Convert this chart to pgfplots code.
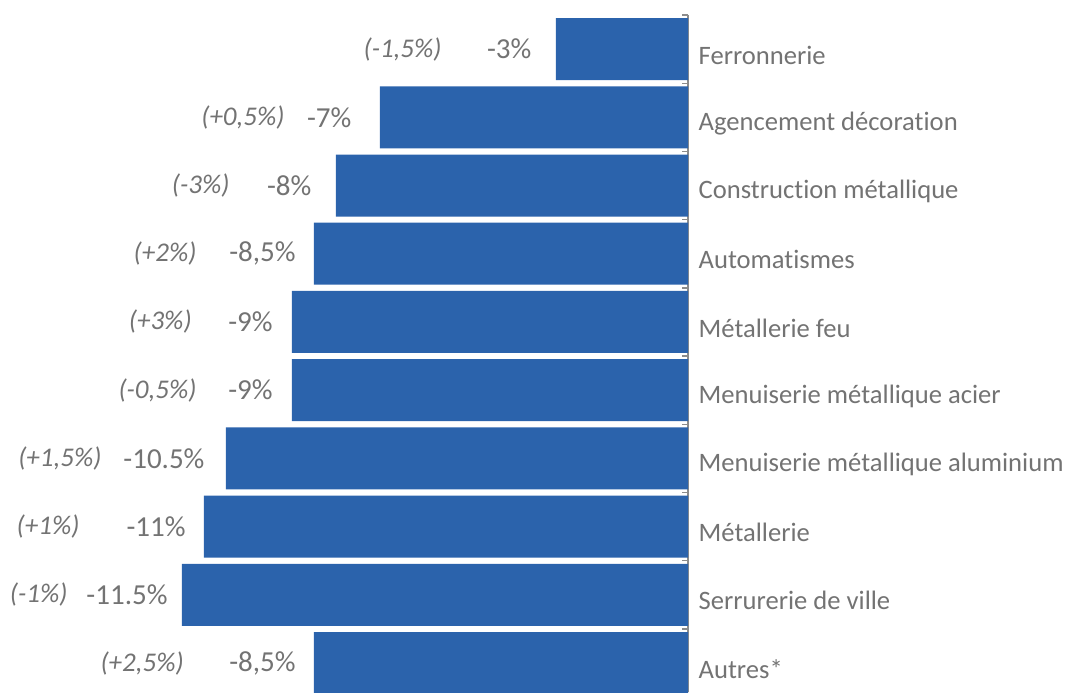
\documentclass[border=0pt]{standalone}
\usepackage{fontspec}
\setmainfont{Carlito}[Ligatures=NoCommon]
\usepackage{pgfplots}
\usepackage{pgfplotstable}
\pgfplotsset{compat=1.18}
\definecolor{barblue}{HTML}{2B63AC}
\definecolor{txtgray}{HTML}{737373}
\definecolor{axgray}{HTML}{8C8C8C}

\pgfplotstableread{
y val vlx vlab clx clab
0 -3 -3.55 {-3\%} -5.59 {(-1,5\%)}
1 -7 -7.64 {-7\%} -9.16 {(+0,5\%)}
2 -8 -8.55 {-8\%} -10.41 {(-3\%)}
3 -8.5 -8.91 {-8,5\%} -11.16 {(+2\%)}
4 -9 -9.43 {-9\%} -11.27 {(+3\%)}
5 -9 -9.43 {-9\%} -11.16 {(-0,5\%)}
6 -10.5 -10.98 {-10.5\%} -13.32 {(+1,5\%)}
7 -11 -11.41 {-11\%} -13.82 {(+1\%)}
8 -11.5 -11.82 {-11.5\%} -14.09 {(-1\%)}
9 -8.5 -8.91 {-8,5\%} -11.45 {(+2,5\%)}
}\data

\begin{document}
\begin{tikzpicture}
\begin{axis}[
  scale only axis, width=344pt, height=338.5pt,
  xmin=-15.636, xmax=0, ymin=-0.5, ymax=9.425, y dir=reverse,
  axis x line=none, axis y line=right,
  axis line style={-, draw=axgray, line width=0.7pt},
  ytick={0,...,9},
  yticklabels={Ferronnerie, Agencement décoration, Construction métallique, Automatismes, Métallerie feu, Menuiserie métallique acier, Menuiserie métallique aluminium, Métallerie, Serrurerie de ville, Autres*},
  major tick length=0pt,
  minor ytick={-0.5,0.5,...,9.5}, minor tick length=2.8pt, tick align=inside,
  every tick/.style={draw=axgray, line width=0.7pt},
  yticklabel style={anchor=west, text=txtgray, font=\fontsize{13.3}{16}\selectfont, xshift=1.8pt, yshift=-3pt},
  clip=false,
]
\addplot[xbar, bar width=31pt, bar shift=0pt, fill=barblue, draw=none] table[x=val, y=y] {\data};
\addplot[draw=none, nodes near coords, point meta=explicit symbolic,
  nodes near coords style={anchor=east, text=txtgray, inner sep=0pt, font=\fontsize{14.5}{17}\selectfont}]
  table[x=vlx, y=y, meta=vlab] {\data};
\addplot[draw=none, nodes near coords, point meta=explicit symbolic,
  nodes near coords style={anchor=east, text=txtgray, inner sep=0pt, font=\fontsize{13.5}{16}\selectfont\itshape}]
  table[x=clx, y=y, meta=clab] {\data};
\end{axis}
\pgfresetboundingbox
\path (current axis.south west) rectangle ([xshift=189.5pt, yshift=7.5pt]current axis.north east);
\end{tikzpicture}
\end{document}
